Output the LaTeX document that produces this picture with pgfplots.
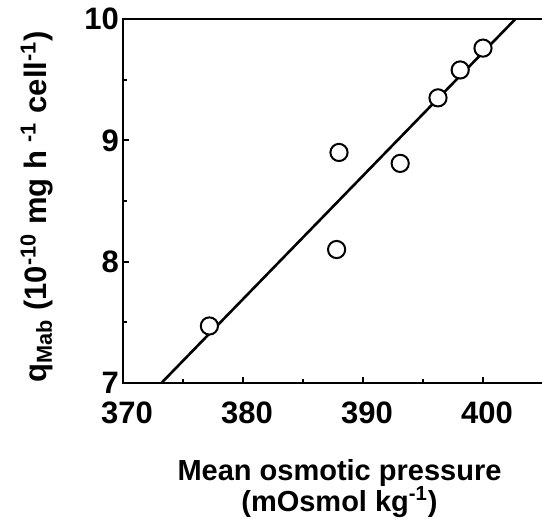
\documentclass[border=0pt]{standalone}
\usepackage{fontspec}
\setmainfont{Liberation Sans}
\usepackage{pgfplots}
\pgfplotsset{compat=1.18}
\begin{document}
\begin{tikzpicture}
\begin{axis}[
  at={(0,0)}, anchor=south west,
  scale only axis,
  width=210.6pt, height=182pt,
  xmin=370, xmax=405.1, ymin=7, ymax=10,
  xtick={370,380,390,400}, ytick={7,8,9,10},
  minor xtick={375,385,395}, minor ytick={7.5,8.5,9.5},
  xtick pos=left, ytick pos=left,
  tick align=inside,
  major tick length=3pt, minor tick length=1.8pt,
  every tick/.style={line width=1pt, black},
  axis line style={line width=1.3pt},
  /pgf/number format/assume math mode=true,
  ticklabel style={font=\fontsize{15.5}{17}\selectfont\bfseries},
  xticklabel style={xshift=2pt, yshift=-6pt},
  yticklabel style={xshift=1.5pt},
  xlabel={Mean osmotic pressure\\(mOsmol kg\textsuperscript{-1})},
  xlabel style={at={(axis description cs:0.514,0)}, anchor=north, yshift=-38pt, inner sep=0pt, align=center, font=\fontsize{14.5}{15.5}\selectfont\bfseries},
  ylabel={q\textsubscript{Mab} (10\textsuperscript{-10} mg h \textsuperscript{-1} cell\textsuperscript{-1})},
  ylabel style={at={(axis description cs:-0.205,0.484)}, anchor=center, inner sep=0pt, font=\fontsize{15.5}{17}\selectfont\bfseries},
]
\addplot[black, no marks, line width=1.3pt] coordinates {(373.2,7) (402.7,10)};
\addplot[only marks, mark=*, mark size=4.3pt, mark options={fill=white, draw=black, line width=1pt}] coordinates {
(377.2,7.47) (388.0,8.90) (387.8,8.10) (393.1,8.81) (396.25,9.35) (398.1,9.58) (400.0,9.76)
};
\end{axis}
\pgfresetboundingbox
\useasboundingbox (-61.5pt,-68pt) rectangle (209.5pt,191.5pt);
\end{tikzpicture}
\end{document}
